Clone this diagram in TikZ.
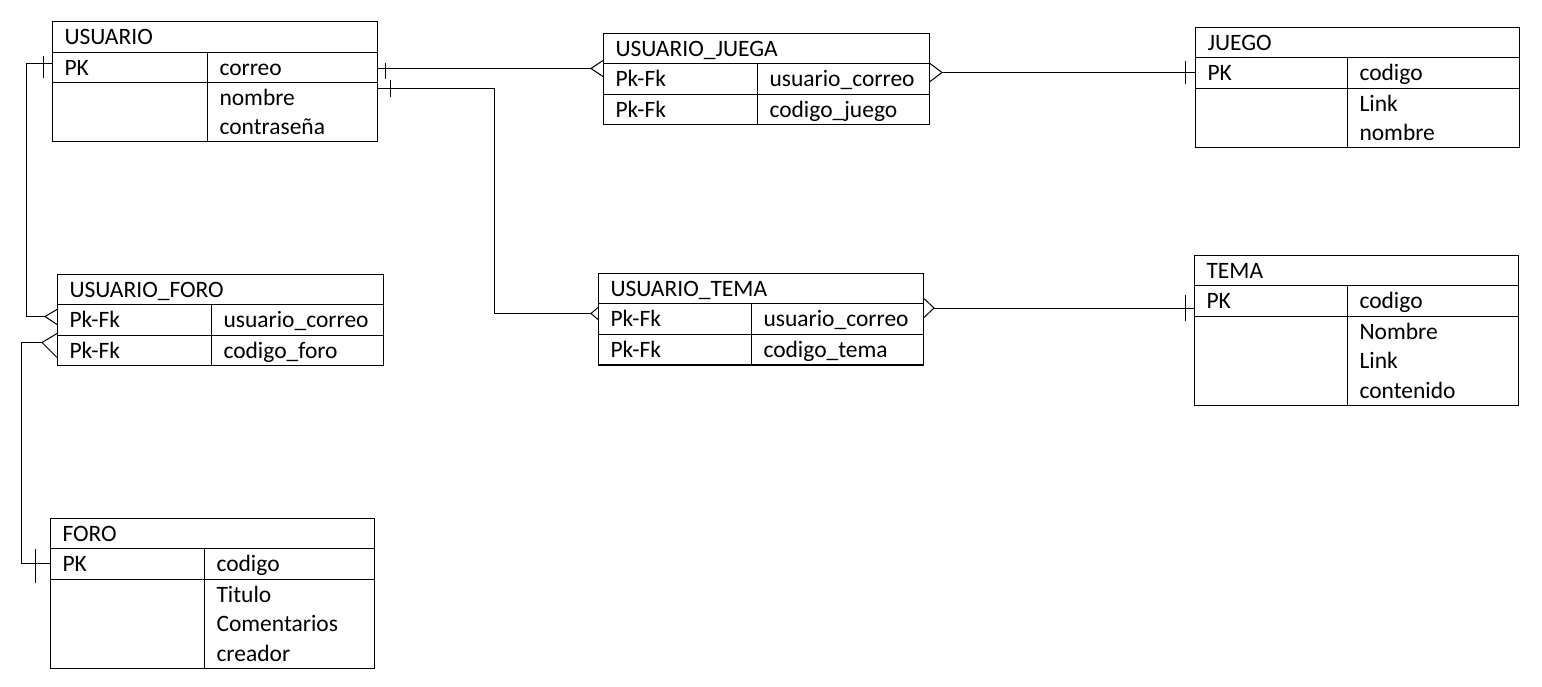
\documentclass[tikz,border=0pt]{standalone}
\usepackage{fontspec}
\setmainfont{Carlito}
\usetikzlibrary{calc}

\newcommand{\cellstrut}{\rule[-7pt]{0pt}{29.5pt}}

\tikzset{
    cell/.style={draw, anchor=north west, inner xsep=12pt, inner ysep=0pt, align=left, text width=#1pt,
        font=\fontsize{23.5}{29.5}\selectfont, execute at begin node=\cellstrut, execute at end node=\cellstrut},
    link/.style={draw, line width=1pt}
}

\begin{document}
\begin{tikzpicture}[x=1pt, y=-1pt, line width=1pt]
            \useasboundingbox (0,0) rectangle (1542,686);

            \node[cell=301, minimum height=31] (UH) at (52,21) {USUARIO};
            \node[cell=131, minimum height=30] (UA1) at (52,52) {PK};
            \node[cell=146, minimum height=30] (UB1) at (207,52) {correo};
            \node[cell=131, minimum height=59] (UA2) at (52,82) {};
            \node[cell=146, minimum height=59] (UB2) at (207,82) {nombre\\contraseña};

            \node[cell=302, minimum height=30] (UJH) at (603,33) {USUARIO\_JUEGA};
            \node[cell=130, minimum height=31] (UJA1) at (603,63) {Pk-Fk};
            \node[cell=148, minimum height=31] (UJB1) at (757,63) {usuario\_correo};
            \node[cell=130, minimum height=30] (UJA2) at (603,94) {Pk-Fk};
            \node[cell=148, minimum height=30] (UJB2) at (757,94) {codigo\_juego};

            \node[cell=300, minimum height=30] (JH) at (1195,27) {JUEGO};
            \node[cell=128, minimum height=31] (JA1) at (1195,57) {PK};
            \node[cell=148, minimum height=31] (JB1) at (1347,57) {codigo};
            \node[cell=128, minimum height=59] (JA2) at (1195,88) {};
            \node[cell=148, minimum height=59] (JB2) at (1347,88) {Link\\nombre};

            \node[cell=302, minimum height=30] (UFH) at (57,274) {USUARIO\_FORO};
            \node[cell=130, minimum height=31] (UFA1) at (57,304) {Pk-Fk};
            \node[cell=148, minimum height=31] (UFB1) at (211,304) {usuario\_correo};
            \node[cell=130, minimum height=30] (UFA2) at (57,335) {Pk-Fk};
            \node[cell=148, minimum height=30] (UFB2) at (211,335) {codigo\_foro};

            \node[cell=301, minimum height=30] (UTH) at (598,273) {USUARIO\_TEMA};
            \node[cell=129, minimum height=31] (UTA1) at (598,303) {Pk-Fk};
            \node[cell=148, minimum height=31] (UTB1) at (751,303) {usuario\_correo};
            \node[cell=129, minimum height=30] (UTA2) at (598,334) {Pk-Fk};
            \node[cell=148, minimum height=30] (UTB2) at (751,334) {codigo\_tema};
            \draw[line width=2pt] (UTA2.south west) -- (UTB2.south east);

            \node[cell=300, minimum height=30] (TH) at (1194,255) {TEMA};
            \node[cell=129, minimum height=31] (TA1) at (1194,285) {PK};
            \node[cell=147, minimum height=31] (TB1) at (1347,285) {codigo};
            \node[cell=129, minimum height=89] (TA2) at (1194,316) {};
            \node[cell=147, minimum height=89] (TB2) at (1347,316) {Nombre\\Link\\contenido};

            \node[cell=300, minimum height=30] (FH) at (50,518) {FORO};
            \node[cell=130, minimum height=31] (FA1) at (50,548) {PK};
            \node[cell=146, minimum height=31] (FB1) at (204,548) {codigo};
            \node[cell=130, minimum height=89] (FA2) at (50,579) {};
            \node[cell=146, minimum height=89] (FB2) at (204,579) {Titulo\\Comentarios\\creador};

            \draw[link] ($(UA1.west)+(0,-4)$) -- ++(-26,0) |- ($(UFA1.west)+(-12,-3.5)$);
            \draw[link] ($(UA1.west)+(-9,-12)$) -- ++(0,22);
            \draw[link] ($(UFA1.west)+(0,-10.5)$) -- ($(UFA1.west)+(-12,-3.5)$) -- ($(UFA1.west)+(0,4.5)$);

            \draw[link] ($(FA1.west)+(0,-0.5)$) -- ++(-29,0) |- ($(UFA2.west)+(-15,-8)$);
            \draw[link] ($(FA1.west)+(-15,-15.5)$) -- ++(0,34);
            \draw[link] ($(UFA2.west)+(0,-17)$) -- ($(UFA2.west)+(-15,-8)$) -- ($(UFA2.west)+(0,7)$);

            \draw[link] ($(UB1.east)+(0,1)$) -- ($(UJA1.west)+(-12,-10.5)$);
            \draw[link] ($(UB1.east)+(7,-5)$) -- ++(0,16);
            \draw[link] ($(UJA1.west)+(0,-18.5)$) -- ($(UJA1.west)+(-12,-10.5)$) -- ($(UJA1.west)+(0,-2.5)$);

            \draw[link] ($(UB2.north east)+(0,6)$) -- ++(116,0) |- ($(UTA1.west)+(-7,-5.5)$);
            \draw[link] ($(UB2.north east)+(12,-2)$) -- ++(0,17);
            \draw[link] ($(UTA1.west)+(0,-11.5)$) -- ($(UTA1.west)+(-7,-5.5)$) -- ($(UTA1.west)+(0,0.5)$);

            \draw[link] ($(UJB1.east)+(0,-15.5)$) -- ($(UJB1.east)+(12,-6.5)$) -- ($(UJB1.east)+(0,2.5)$);
            \draw[link] ($(UJB1.east)+(12,-6.5)$) -- ($(JA1.west)+(0,-0.5)$);
            \draw[link] ($(JA1.west)+(-10,-12.5)$) -- ++(0,23);

            \draw[link] ($(UTB1.east)+(0,-20.5)$) -- ($(UTB1.east)+(10,-11)$) -- ($(UTB1.east)+(0,-1.5)$);
            \draw[link] ($(UTB1.east)+(10,-11)$) -- ($(TA1.west)+(0,7)$);
            \draw[link] ($(TA1.west)+(-9,-6.5)$) -- ++(0,26);
        \end{tikzpicture}
\end{document}
